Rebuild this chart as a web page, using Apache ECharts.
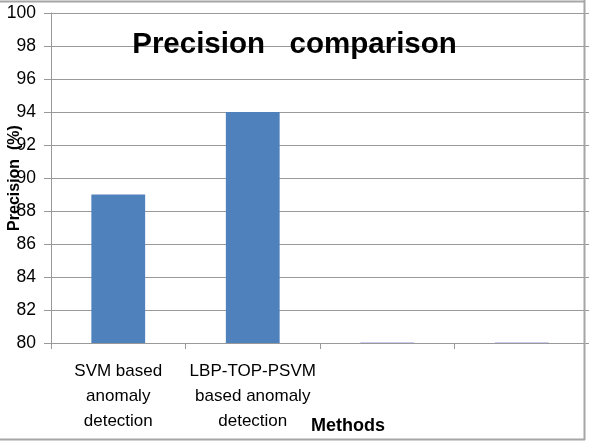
<!DOCTYPE html>
<html>
<head>
<meta charset="utf-8">
<script src="https://cdn.jsdelivr.net/npm/echarts@6/dist/echarts.min.js"></script>
<style>
html,body{margin:0;padding:0;background:#fff;}
#chart{width:589px;height:442px;}
</style>
</head>
<body>
<div id="chart"></div>
<script>
var categories = ['SVM based\nanomaly\ndetection', 'LBP-TOP-PSVM\nbased anomaly\ndetection', '', ''];
var precision = [89, 94, 80, 80];
var yTicks = {min: 80, max: 100, interval: 2};
var titleText = 'Precision   comparison';
var yName = 'Precision  (%)';
var xName = 'Methods';

var chart = echarts.init(document.getElementById('chart'), null, {renderer: 'canvas'});
var font = 'Liberation Sans';
var seriesData = precision.map(function (v) {
  return v <= yTicks.min ? {value: v + 0.06, itemStyle: {color: '#c9ccef'}} : v;
});
chart.setOption({
  animation: false,
  backgroundColor: '#fff',
  title: {
    text: titleText, left: 'center', top: 25,
    textStyle: {fontFamily: font, fontWeight: 'bold', fontSize: 29.5, color: '#000'}
  },
  grid: {left: 51, right: 0, top: 13, bottom: 99, containLabel: false, outerBoundsMode: 'none'},
  xAxis: {
    type: 'category', data: categories,
    name: xName, nameLocation: 'middle', nameGap: 74, nameMoveOverlap: false,
    nameTextStyle: {fontFamily: font, fontWeight: 'bold', fontSize: 18, color: '#000', padding: [0, 0, 0, 56]},
    axisLine: {show: true, lineStyle: {color: '#999', width: 1}},
    axisTick: {show: true, length: 6, lineStyle: {color: '#999'}},
    axisLabel: {interval: 0, margin: 16, lineHeight: 25, fontFamily: font, fontSize: 17, color: '#000'},
    splitLine: {show: false}
  },
  yAxis: {
    type: 'value', min: yTicks.min, max: yTicks.max, interval: yTicks.interval,
    name: yName, nameLocation: 'middle', nameGap: 28, nameRotate: 90, nameMoveOverlap: false,
    nameTextStyle: {fontFamily: font, fontWeight: 'bold', fontSize: 16, color: '#000'},
    axisLine: {show: true, lineStyle: {color: '#999', width: 1}},
    axisTick: {show: true, length: 7, lineStyle: {color: '#999'}},
    axisLabel: {margin: 15, fontFamily: font, fontSize: 17.5, color: '#000'},
    splitLine: {show: true, lineStyle: {color: '#999', width: 1}}
  },
  series: [{
    type: 'bar', data: seriesData, barWidth: '40%',
    itemStyle: {color: '#4F81BD'}
  }],
  graphic: [
    {type: 'line', shape: {x1: 0, y1: 1.5, x2: 585, y2: 1.5}, style: {stroke: '#a6a6a6', lineWidth: 2}, z: 100},
    {type: 'line', shape: {x1: 584.5, y1: 0, x2: 584.5, y2: 440}, style: {stroke: '#a6a6a6', lineWidth: 2}, z: 100},
    {type: 'line', shape: {x1: 0, y1: 439.5, x2: 585, y2: 439.5}, style: {stroke: '#a6a6a6', lineWidth: 2}, z: 100}
  ]
});
</script>
</body>
</html>
